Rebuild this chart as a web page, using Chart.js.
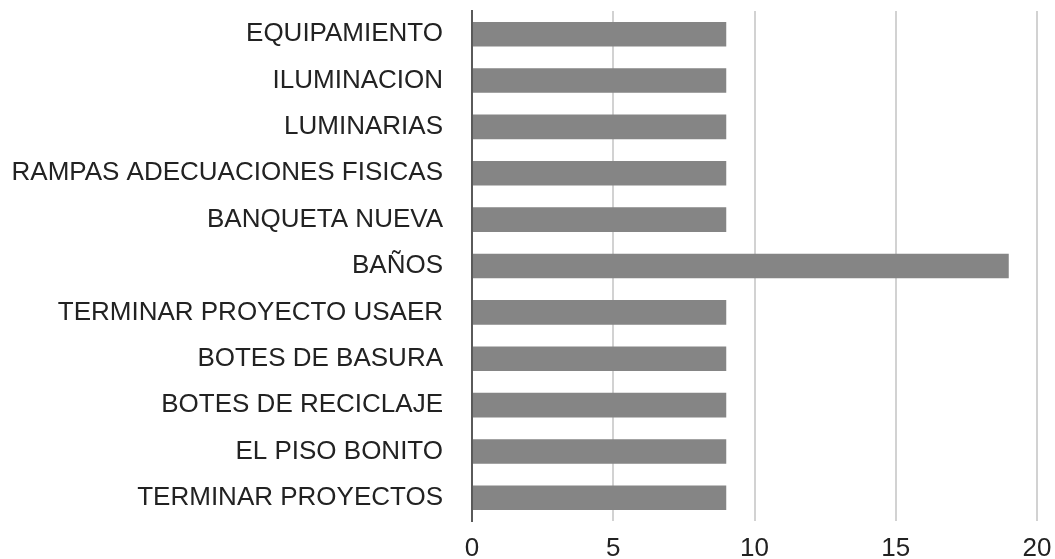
<!DOCTYPE html>
<html>
<head>
<meta charset="utf-8">
<script src="https://cdn.jsdelivr.net/npm/chart.js@4/dist/chart.umd.min.js"></script>
<style>
    html, body { margin: 0; padding: 0; background: #fff; }
    #wrap { width: 1055px; height: 559px; }
</style>
</head>
<body>
<div id="wrap"><canvas id="bar-chart"></canvas></div>
<script>
// categories, top to bottom
const categories = [
    'EQUIPAMIENTO',
    'ILUMINACION',
    'LUMINARIAS',
    'RAMPAS ADECUACIONES FISICAS',
    'BANQUETA NUEVA',
    'BAÑOS',
    'TERMINAR PROYECTO USAER',
    'BOTES DE BASURA',
    'BOTES DE RECICLAJE',
    'EL PISO BONITO',
    'TERMINAR PROYECTOS'
];
const counts = [9, 9, 9, 9, 9, 19, 9, 9, 9, 9, 9];
const xTicks = [0, 5, 10, 15, 20];

const fontFamily = "'Helvetica Neue', Helvetica, 'Liberation Sans', Arial, sans-serif";

const ctx = document.getElementById('bar-chart').getContext('2d');
new Chart(ctx, {
    type: 'bar',
    data: {
        labels: categories,
        datasets: [{
            data: counts,
            backgroundColor: '#858585',
            borderWidth: 0,
            categoryPercentage: 1,
            barPercentage: 0.53
        }]
    },
    options: {
        indexAxis: 'y',
        responsive: true,
        maintainAspectRatio: false,
        animation: false,
        layout: {
            padding: { top: 11, right: 18, bottom: 0, left: 0 }
        },
        plugins: {
            legend: { display: false },
            tooltip: { enabled: false }
        },
        scales: {
            x: {
                min: xTicks[0],
                max: xTicks[xTicks.length - 1],
                afterBuildTicks: scale => {
                    scale.ticks = xTicks.map(v => ({ value: v }));
                },
                afterFit: scale => {
                    scale.height = 38;
                    scale.paddingLeft = 0;
                    scale.paddingRight = 0;
                },
                border: { display: false },
                grid: {
                    color: c => c.tick && c.tick.value === 0 ? 'rgba(0,0,0,0)' : '#d2d2d2',
                    lineWidth: 2,
                    drawTicks: false
                },
                ticks: {
                    padding: 12,
                    color: '#222',
                    font: { family: fontFamily, size: 26 }
                }
            },
            y: {
                afterFit: scale => {
                    scale.width = 472;
                    scale.paddingTop = 0;
                    scale.paddingBottom = 0;
                },
                border: { display: true, color: '#5a5a5a', width: 2 },
                grid: { display: false },
                ticks: {
                    padding: 21,
                    color: '#222',
                    font: { family: fontFamily, size: 26 }
                }
            }
        }
    }
});
</script>
</body>
</html>
